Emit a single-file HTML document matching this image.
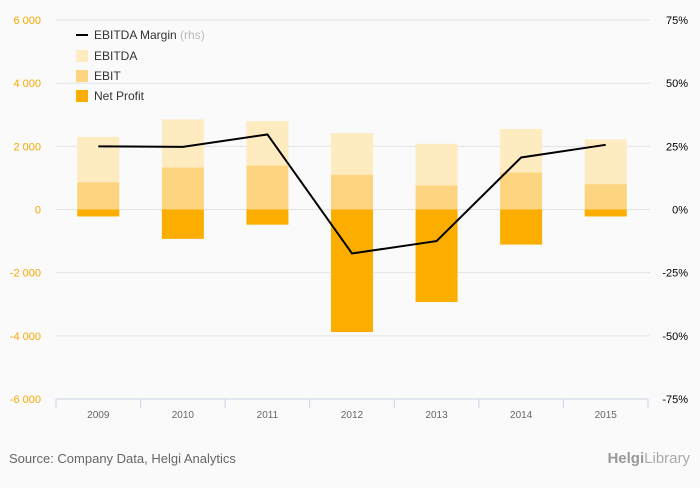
<!DOCTYPE html>
<html><head><meta charset="utf-8"><style>
body{margin:0;background:#fafafa;font-family:"Liberation Sans",sans-serif;}
svg text{font-family:"Liberation Sans",sans-serif;}
</style></head><body>
<svg id="c" width="700" height="483" xmlns="http://www.w3.org/2000/svg">
<rect width="700" height="483" fill="#fafafa"/>
<g id="grid"></g><g id="bars"></g><g id="line"></g><g id="axes"></g>
<g>
<line x1="76" y1="35" x2="88" y2="35" stroke="#000" stroke-width="2"/>
<text x="94" y="39" font-size="12" fill="#333">EBITDA Margin <tspan fill="#bbb">(rhs)</tspan></text>
<rect x="76" y="50" width="12" height="12" fill="#feebc0"/>
<text x="94" y="60" font-size="12" fill="#333">EBITDA</text>
<rect x="76" y="70" width="12" height="12" fill="#fdd581"/>
<text x="94" y="80" font-size="12" fill="#333">EBIT</text>
<rect x="76" y="90" width="12" height="12" fill="#fbad00"/>
<text x="94" y="100" font-size="12" fill="#333">Net Profit</text>
</g>
<text x="9" y="463" font-size="13" fill="#666">Source: Company Data, Helgi Analytics</text>
<text x="690" y="463" font-size="15" fill="#aaa" text-anchor="end"><tspan font-weight="bold" fill="#999">Helgi</tspan>Library</text>
</svg>
<script>
const categories=["2009","2010","2011","2012","2013","2014","2015"];
const ebitda=[2300,2850,2800,2420,2080,2550,2220];
const ebit=[860,1330,1390,1100,760,1170,800];
const netProfit=[-220,-930,-480,-3880,-2930,-1110,-220];
const margin=[25.0,24.8,29.7,-17.4,-12.5,20.6,25.6];
const leftTicks=[6000,4000,2000,0,-2000,-4000,-6000];
const leftTickLabels=["6 000","4 000","2 000","0","-2 000","-4 000","-6 000"];
const rightTicks=[75,50,25,0,-25,-50,-75];
const rightTickLabels=["75%","50%","25%","0%","-25%","-50%","-75%"];
const NS="http://www.w3.org/2000/svg";
const X0=56,X1=648,YT=20,YB=399;
const yL=v=>YT+(6000-v)/12000*(YB-YT);
const yR=v=>YT+(75-v)/150*(YB-YT);
const bw=(X1-X0)/categories.length;
const xC=i=>X0+bw*(i+0.5);
function mk(tag,attrs,parent){const e=document.createElementNS(NS,tag);for(const k in attrs)e.setAttribute(k,attrs[k]);document.getElementById(parent).appendChild(e);return e;}
leftTicks.forEach((t,i)=>{
  if(t!==-6000){const g=mk('line',{x1:X0,x2:X1+2,y1:yL(t),y2:yL(t),stroke:'#e3e3e3','stroke-width':1},'grid');
  
  }
  const l=mk('text',{x:41,y:yL(t)+4,'font-size':11,fill:'#f5a800','text-anchor':'end'},'axes');l.textContent=leftTickLabels[i];
  
  
});
rightTicks.forEach((t,i)=>{
  const l=mk('text',{x:688,y:yR(t)+4,'font-size':11,fill:'#000','text-anchor':'end'},'axes');l.textContent=rightTickLabels[i];
  
  
});
const ax=mk('line',{x1:X0,x2:X1,y1:YB,y2:YB,stroke:'#c8d4e6'},'axes');


for(let i=0;i<=categories.length;i++){const t=mk('line',{x1:X0+bw*i,x2:X0+bw*i,y1:YB,y2:YB+9,stroke:'#c8d4e6'},'axes');
  
  }
categories.forEach((c,i)=>{
  const l=mk('text',{x:xC(i),y:YB+19,'font-size':10,fill:'#666','text-anchor':'middle'},'axes');l.textContent=c;
  
  
  [[ebitda,'#feebc0','bar-ebitda'],[ebit,'#fdd581','bar-ebit'],[netProfit,'#fbad00','bar-net-profit']].forEach(([arr,col,nm])=>{
    const v=arr[i];const y=Math.min(yL(v),yL(0));const h=Math.abs(yL(v)-yL(0));
    const r=mk('rect',{x:xC(i)-21,y:y,width:42,height:h,fill:col},'bars');
    
    
  });
});
const p=mk('polyline',{points:margin.map((m,i)=>xC(i)+','+yR(m)).join(' '),fill:'none',stroke:'#000','stroke-width':2},'line');


</script>
</body></html>
